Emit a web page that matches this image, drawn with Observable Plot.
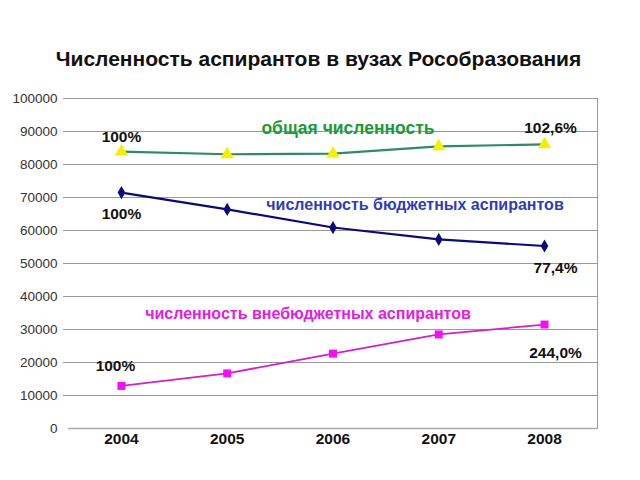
<!DOCTYPE html>
<html><head><meta charset="utf-8">
<script src="https://cdn.jsdelivr.net/npm/d3@7"></script>
<script src="https://cdn.jsdelivr.net/npm/@observablehq/plot@0.6"></script>
<style>body{margin:0;background:#fff;font-family:"Liberation Sans",Arial,sans-serif}</style>
</head><body><div id="chart"></div>
<script>
const title = "Численность аспирантов в вузах Рособразования";
const years = [2004, 2005, 2006, 2007, 2008];
const total = [83900, 83100, 83300, 85500, 86100];
const budget = [71500, 66400, 60900, 57300, 55300];
const offbudget = [12900, 16700, 22700, 28500, 31500];
const yTicks = [0, 10000, 20000, 30000, 40000, 50000, 60000, 70000, 80000, 90000, 100000];
const seriesNames = ["общая численность", "численность бюджетных аспирантов", "численность внебюджетных аспирантов"];
const startPct = ["100%", "100%", "100%"];
const endPct = ["102,6%", "77,4%", "244,0%"];

const rows = s => years.map((y, i) => ({year: y, value: s[i]}));
const T = rows(total), B = rows(budget), O = rows(offbudget);
const first = a => [a[0]], last = a => [a[a.length - 1]], mid = a => [a[2]];

const bold = {fontWeight: "bold", fontSize: 15.5, fill: "#111"};

const chart = Plot.plot({
  width: 640, height: 480,
  marginTop: 98, marginBottom: 52, marginLeft: 63, marginRight: 43,
  style: {fontFamily: "Liberation Sans, Arial, sans-serif", background: "#fff"},
  x: {type: "linear", domain: [2003.452, 2008.501], ticks: years, tickFormat: d => String(d), axis: null},
  y: {domain: [0, 100000], axis: null},
  marks: [
    Plot.ruleY(yTicks.slice(1), {stroke: "#999", strokeWidth: 1}),
    Plot.ruleY([0], {stroke: "#aaa", strokeWidth: 1.5, x1: 2003.5, x2: 2008.501}),
    Plot.frame({anchor: "right", stroke: "#999"}),
    Plot.axisY({ticks: yTicks, tickSize: 0, tickPadding: 6, fontSize: 13.5, tickFormat: d => String(d), label: null, fill: "#333"}),
    Plot.axisX({ticks: years, tickSize: 0, tickPadding: 4, fontSize: 15.5, fontWeight: "bold", tickFormat: d => String(d), label: null, fill: "#111"}),
    Plot.line(T, {x: "year", y: "value", stroke: "#2e8b66", strokeWidth: 2.2}),
    Plot.line(B, {x: "year", y: "value", stroke: "#0a0a78", strokeWidth: 2.2}),
    Plot.line(O, {x: "year", y: "value", stroke: "#d020d0", strokeWidth: 1.8}),
    Plot.dot(T, {x: "year", y: "value", symbol: "triangle", r: 4, fill: "#f4f000", stroke: "#f4f000"}),
    Plot.dot(B, {x: "year", y: "value", symbol: "diamond", r: 4, fill: "#0a0a78"}),
    Plot.dot(O, {x: "year", y: "value", symbol: "square", r: 4.5, fill: "#f010f0"}),
    Plot.text([title], {frameAnchor: "top", dy: -47, dx: -12, text: d => d, fontSize: 21, fontWeight: "bold", fill: "#111"}),
    Plot.text(first(T), {x: "year", y: "value", text: () => startPct[0], dy: -15, ...bold}),
    Plot.text(first(B), {x: "year", y: "value", text: () => startPct[1], dy: 21, ...bold}),
    Plot.text(first(O), {x: "year", y: "value", text: () => startPct[2], dx: -6, dy: -20, ...bold}),
    Plot.text(last(T), {x: "year", y: "value", text: () => endPct[0], dx: 6, dy: -16, ...bold}),
    Plot.text(last(B), {x: "year", y: "value", text: () => endPct[1], dx: 11, dy: 22, ...bold}),
    Plot.text(last(O), {x: "year", y: "value", text: () => endPct[2], dx: 11, dy: 28, ...bold}),
    Plot.text(mid(T), {x: "year", y: "value", text: () => seriesNames[0], dx: 15, dy: -25, fontSize: 17.5, fontWeight: "bold", fill: "#1a9a3a"}),
    Plot.text(mid(B), {x: "year", y: "value", text: () => seriesNames[1], dx: 82, dy: -23, fontSize: 16, fontWeight: "bold", fill: "#2e3db8"}),
    Plot.text(mid(O), {x: "year", y: "value", text: () => seriesNames[2], dx: -25, dy: -40, fontSize: 16, fontWeight: "bold", fill: "#e020e0"})
  ]
});
document.getElementById("chart").appendChild(chart);
</script></body></html>
